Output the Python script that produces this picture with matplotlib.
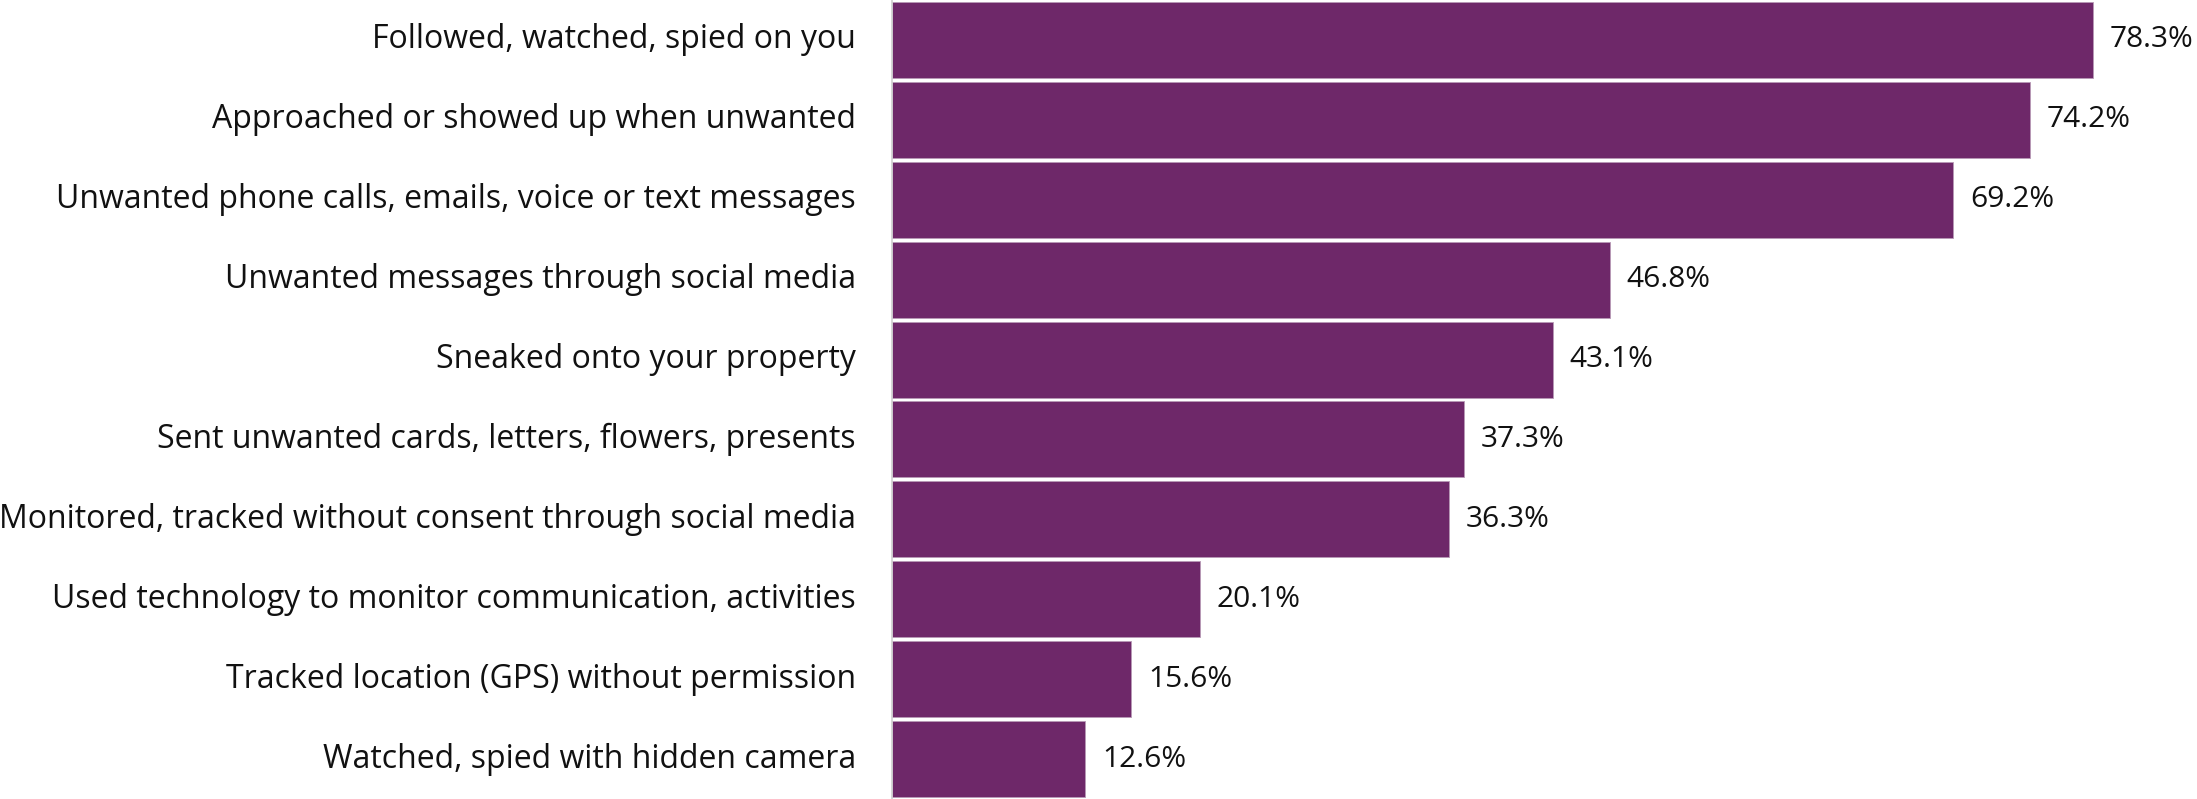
import matplotlib
matplotlib.use("Agg")
import matplotlib.pyplot as plt
from matplotlib.transforms import ScaledTranslation

categories = [
    "Followed, watched, spied on you",
    "Approached or showed up when unwanted",
    "Unwanted phone calls, emails, voice or text messages",
    "Unwanted messages through social media",
    "Sneaked onto your property",
    "Sent unwanted cards, letters, flowers, presents",
    "Monitored, tracked without consent through social media",
    "Used technology to monitor communication, activities",
    "Tracked location (GPS) without permission",
    "Watched, spied with hidden camera",
]
values = [78.3, 74.2, 69.2, 46.8, 43.1, 37.3, 36.3, 20.1, 15.6, 12.6]
value_labels = [f"{v:.1f}%" for v in values]

plt.rcParams['font.family'] = ['Open Sans', 'DejaVu Sans']

W, H = 2197, 799
fig = plt.figure(figsize=(W / 100, H / 100), dpi=100)
left = 892 / W
ax = fig.add_axes([left, 0, 1 - left, 1])

color = "#6E2869"
y = list(range(len(categories)))
ax.barh(y, values, height=0.95, color=color, edgecolor="#b89ab6", linewidth=0.6)
ax.set_ylim(len(categories) - 0.5, -0.5)
ax.set_xlim(0, (W - 892) / (1201 / 78.3))

ax.set_yticks(y)
ax.set_yticklabels(categories, fontsize=23, color="#111111")
ax.tick_params(axis="y", length=0, pad=26)
ax.set_xticks([])
shift = ScaledTranslation(0, 4 / 100, fig.dpi_scale_trans)
for t in ax.get_yticklabels():
    t.set_transform(t.get_transform() + shift)

for yi, v, lab in zip(y, values, value_labels):
    ax.annotate(lab, xy=(v, yi), xytext=(12, 0), textcoords="offset points",
                va="center", ha="left", fontsize=21.5, color="#111111")

for s in ["top", "right", "bottom"]:
    ax.spines[s].set_visible(False)
ax.spines["left"].set_color("#d0d0d0")
ax.spines["left"].set_linewidth(1.2)

fig.savefig("out.png", dpi=100)
